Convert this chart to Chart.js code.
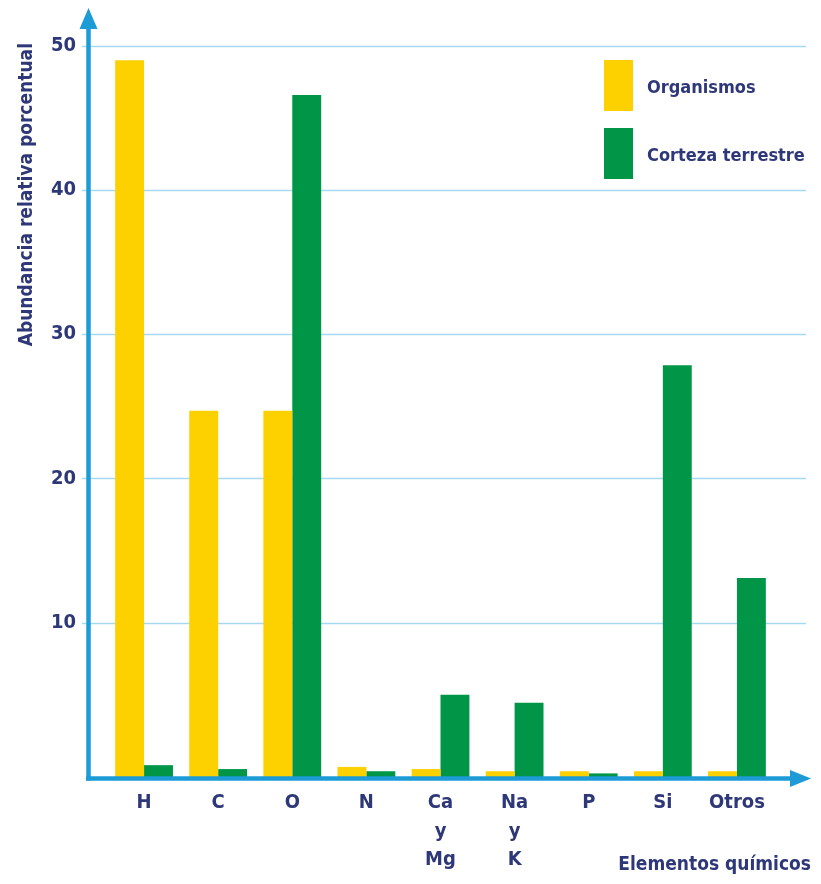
<!DOCTYPE html>
<html lang="es">
<head>
<meta charset="utf-8">
<title>Abundancia relativa de elementos químicos</title>
<script src="https://cdn.jsdelivr.net/npm/chart.js@4.4.1/dist/chart.umd.min.js"></script>
<style>
  html, body { margin: 0; padding: 0; background: #ffffff; }
  #wrap { width: 821px; height: 884px; }
</style>
</head>
<body>
<div id="wrap"><canvas id="chartCanvas" width="821" height="884"></canvas></div>
<script>
/* ═══════════════════════════════════════════════════════════
   Abundancia relativa porcentual — organismos vs corteza
═══════════════════════════════════════════════════════════ */

// ── Data ──
var categories = ['H', 'C', 'O', 'N', ['Ca', 'y', 'Mg'], ['Na', 'y', 'K'], 'P', 'Si', 'Otros'];
var organismos = [49.0, 24.7, 24.7, 0.0, -0.15, -0.3, -0.3, -0.3, -0.3];
var corteza = [0.12, -0.15, 46.6, -0.3, 5.0, 4.45, -0.45, 27.85, 13.1];
var yTicks = [10, 20, 30, 40, 50];
var yMin = -0.7;
var yMax = 50.2;

var NAVY = '#2e3878';
var AXIS_BLUE = '#1c9bd7';
var GRID_BLUE = '#a6d9f0';
var YELLOW = '#fdd000';
var GREEN = '#009547';
var FONT = "'DejaVu Sans Condensed', 'Liberation Sans', sans-serif";

// ── Decorations: grid, arrow axes, legend, x title ──
var decorPlugin = {
  id: 'decor',
  beforeDatasetsDraw: function(chart) {
    var ctx = chart.ctx;
    var y = chart.scales.y;
    ctx.save();
    ctx.strokeStyle = GRID_BLUE;
    ctx.lineWidth = 1.5;
    yTicks.forEach(function(v) {
      var py = Math.round(y.getPixelForValue(v)) + 0.5;
      ctx.beginPath();
      ctx.moveTo(82, py);
      ctx.lineTo(806, py);
      ctx.stroke();
    });
    ctx.restore();
  },
  afterDraw: function(chart) {
    var ctx = chart.ctx;
    var area = chart.chartArea;
    var axisY = area.bottom + 1.5;
    ctx.save();

    // y axis with arrow
    ctx.strokeStyle = AXIS_BLUE;
    ctx.fillStyle = AXIS_BLUE;
    ctx.lineWidth = 4.5;
    ctx.beginPath();
    ctx.moveTo(88.5, axisY + 2);
    ctx.lineTo(88.5, 24);
    ctx.stroke();
    ctx.beginPath();
    ctx.moveTo(88.5, 8);
    ctx.lineTo(97.5, 29);
    ctx.lineTo(79.5, 29);
    ctx.closePath();
    ctx.fill();

    // x axis with arrow
    ctx.beginPath();
    ctx.moveTo(86, axisY);
    ctx.lineTo(796, axisY);
    ctx.stroke();
    ctx.beginPath();
    ctx.moveTo(811, axisY);
    ctx.lineTo(790, axisY - 8.5);
    ctx.lineTo(790, axisY + 8.5);
    ctx.closePath();
    ctx.fill();

    // legend
    var items = chart.data.datasets;
    var boxY = [60, 128];
    ctx.font = 'bold 18px ' + FONT;
    ctx.textBaseline = 'middle';
    ctx.textAlign = 'left';
    items.forEach(function(ds, i) {
      ctx.fillStyle = ds.backgroundColor;
      ctx.fillRect(604, boxY[i], 29, 51);
      ctx.fillStyle = NAVY;
      ctx.fillText(ds.label, 647, boxY[i] + 28);
    });

    // x axis title
    ctx.font = 'bold 19px ' + FONT;
    ctx.textAlign = 'right';
    ctx.fillText('Elementos químicos', 811, 865);
    ctx.restore();
  }
};

// ── Chart ──
var ctx = document.getElementById('chartCanvas').getContext('2d');
var chartInstance = new Chart(ctx, {
  type: 'bar',
  data: {
    labels: categories,
    datasets: [
      {
        label: 'Organismos',
        data: organismos,
        backgroundColor: YELLOW,
        base: yMin
      },
      {
        label: 'Corteza terrestre',
        data: corteza,
        backgroundColor: GREEN,
        base: yMin
      }
    ]
  },
  options: {
    responsive: false,
    animation: false,
    categoryPercentage: 0.78,
    barPercentage: 1.0,
    layout: { padding: { left: 8, right: 47, top: 0, bottom: 0 } },
    plugins: {
      legend: { display: false },
      tooltip: { enabled: false }
    },
    scales: {
      x: {
        grid: { display: false, drawTicks: false },
        border: { display: false },
        afterFit: function(axis) { axis.height = 107; },
        ticks: {
          color: NAVY,
          padding: 12,
          maxRotation: 0,
          autoSkip: false,
          font: { family: FONT, size: 20, weight: 'bold', lineHeight: 1.42 }
        }
      },
      y: {
        min: yMin,
        max: yMax,
        afterFit: function(axis) { axis.width = 99; },
        afterBuildTicks: function(axis) {
          axis.ticks = yTicks.map(function(v) { return { value: v }; });
        },
        grid: { display: false, drawTicks: false },
        border: { display: false },
        ticks: {
          color: NAVY,
          padding: 31,
          font: { family: FONT, size: 20, weight: 'bold' }
        },
        title: {
          display: true,
          text: 'Abundancia relativa porcentual',
          align: 'end',
          color: NAVY,
          padding: { top: 8, bottom: 0 },
          font: { family: FONT, size: 19, weight: 'bold' }
        }
      }
    }
  },
  plugins: [decorPlugin]
});
</script>
</body>
</html>
